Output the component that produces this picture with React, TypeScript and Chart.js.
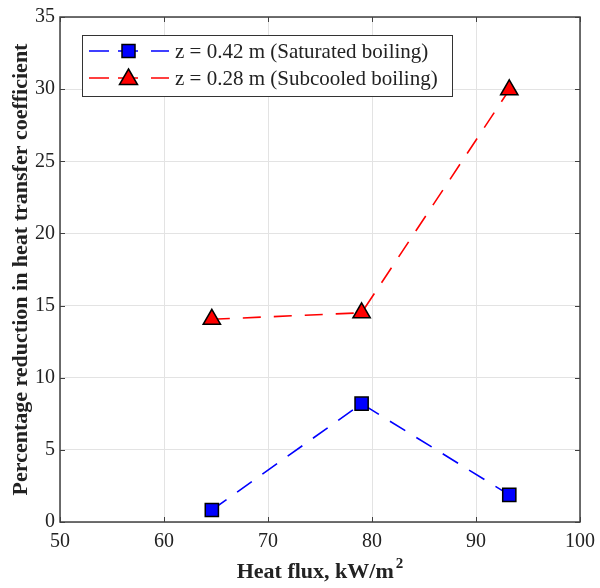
import React, { useEffect, useRef } from "react";
import { Chart, registerables } from "chart.js";

Chart.register(...registerables);

const heatFlux = [64.6, 79.0, 93.2];
const saturated = [0.83, 8.2, 1.88];
const subcooled = [14.05, 14.5, 29.95];
const seriesLabels = ["z = 0.42 m (Saturated boiling)", "z = 0.28 m (Subcooled boiling)"];
const xTitleMain = "Heat flux, kW/m";
const xTitleSup = "2";
const yTitle = "Percentage reduction in heat transfer coefficient";

const FONT = "'Liberation Serif', 'DejaVu Serif', serif";
const DASH = [18, 13];

const framePlugin = {
  id: "frame",
  afterDraw(chart: any) {
    const { ctx, chartArea: a, scales } = chart;
    ctx.save();
    ctx.strokeStyle = "#404040";
    ctx.lineWidth = 1.5;
    ctx.strokeRect(a.left, a.top, a.right - a.left, a.bottom - a.top);
    ctx.lineWidth = 1;
    const tl = 5;
    scales.x.ticks.forEach((t: any) => {
      const px = Math.round(scales.x.getPixelForValue(t.value)) + 0.5;
      ctx.beginPath();
      ctx.moveTo(px, a.bottom);
      ctx.lineTo(px, a.bottom - tl);
      ctx.moveTo(px, a.top);
      ctx.lineTo(px, a.top + tl);
      ctx.stroke();
    });
    scales.y.ticks.forEach((t: any) => {
      const py = Math.round(scales.y.getPixelForValue(t.value)) + 0.5;
      ctx.beginPath();
      ctx.moveTo(a.left, py);
      ctx.lineTo(a.left + tl, py);
      ctx.moveTo(a.right, py);
      ctx.lineTo(a.right - tl, py);
      ctx.stroke();
    });

    // x-axis title with superscript
    ctx.fillStyle = "#222";
    ctx.textBaseline = "alphabetic";
    ctx.textAlign = "left";
    ctx.font = `bold 22px ${FONT}`;
    const mainW = ctx.measureText(xTitleMain).width;
    ctx.font = `bold 15px ${FONT}`;
    const supW = ctx.measureText(xTitleSup).width;
    const cx = (a.left + a.right) / 2;
    const startX = cx - (mainW + supW + 2) / 2;
    ctx.font = `bold 22px ${FONT}`;
    ctx.fillText(xTitleMain, startX, 578);
    ctx.font = `bold 15px ${FONT}`;
    ctx.fillText(xTitleSup, startX + mainW + 2, 568);

    // legend
    const bx = 82, by = 35, bw = 370, bh = 61;
    ctx.fillStyle = "#ffffff";
    ctx.fillRect(bx, by, bw, bh);
    ctx.strokeStyle = "#333333";
    ctx.lineWidth = 1;
    ctx.strokeRect(bx + 0.5, by + 0.5, bw, bh);
    const rows = [
      { y: 51, color: "#0000ff", style: "rect", label: seriesLabels[0] },
      { y: 78, color: "#ff0000", style: "triangle", label: seriesLabels[1] },
    ];
    rows.forEach((r) => {
      ctx.strokeStyle = r.color;
      ctx.lineWidth = 1.5;
      ctx.beginPath();
      ctx.moveTo(89, r.y);
      ctx.lineTo(109, r.y);
      ctx.moveTo(118, r.y);
      ctx.lineTo(138, r.y);
      ctx.moveTo(151, r.y);
      ctx.lineTo(169, r.y);
      ctx.stroke();
      ctx.fillStyle = r.color;
      ctx.strokeStyle = "#000";
      ctx.lineWidth = 1.5;
      if (r.style === "rect") {
        ctx.fillRect(122, r.y - 6.5, 13, 13);
        ctx.strokeRect(122, r.y - 6.5, 13, 13);
      } else {
        ctx.beginPath();
        ctx.moveTo(128.5, r.y - 9);
        ctx.lineTo(137.5, r.y + 6.5);
        ctx.lineTo(119.5, r.y + 6.5);
        ctx.closePath();
        ctx.fill();
        ctx.stroke();
      }
      ctx.fillStyle = "#222";
      ctx.font = `21px ${FONT}`;
      ctx.textBaseline = "middle";
      ctx.textAlign = "left";
      ctx.fillText(r.label, 175, r.y + 1);
    });
    ctx.restore();
  },
};

export default function App() {
  const ref = useRef<HTMLCanvasElement>(null);
  useEffect(() => {
    document.body.style.margin = "0";
    const chart = new Chart(ref.current!, {
      type: "line",
      data: {
        datasets: [
          {
            label: seriesLabels[0],
            data: heatFlux.map((x, i) => ({ x, y: saturated[i] })),
            borderColor: "#0000ff",
            backgroundColor: "#0000ff",
            borderWidth: 1.6,
            borderDash: DASH,
            pointStyle: "rect",
            pointRadius: 9.3,
            pointBorderColor: "#000",
            pointBorderWidth: 1.5,
            pointBackgroundColor: "#0000ff",
          },
          {
            label: seriesLabels[1],
            data: heatFlux.map((x, i) => ({ x, y: subcooled[i] })),
            borderColor: "#ff0000",
            backgroundColor: "#ff0000",
            borderWidth: 1.6,
            borderDash: DASH,
            pointStyle: "triangle",
            pointRadius: 10,
            pointBorderColor: "#000",
            pointBorderWidth: 1.5,
            pointBackgroundColor: "#ff0000",
          },
        ],
      },
      options: {
        animation: false,
        responsive: false,
        layout: { padding: { top: 15, right: 20, left: 0, bottom: 0 } },
        plugins: { legend: { display: false }, tooltip: { enabled: false } },
        scales: {
          x: {
            type: "linear",
            min: 50,
            max: 100,
            ticks: { stepSize: 10, color: "#222", font: { family: FONT, size: 20 }, padding: 8 },
            grid: { color: "#e3e3e3", lineWidth: 1, drawTicks: false },
            border: { display: false },
            title: { display: false },
            afterFit: (s: any) => {
              s.height = 66;
              s.paddingLeft = 0;
              s.paddingRight = 0;
            },
          },
          y: {
            type: "linear",
            min: 0,
            max: 35,
            ticks: { stepSize: 5, color: "#222", font: { family: FONT, size: 20 }, padding: 5 },
            grid: { color: "#e3e3e3", lineWidth: 1, drawTicks: false },
            border: { display: false },
            title: {
              display: true,
              text: yTitle,
              color: "#222",
              font: { family: FONT, size: 22, weight: "bold" },
              padding: { top: 8, bottom: 0 },
            },
            afterFit: (s: any) => {
              s.width = 60;
            },
          },
        },
      },
      plugins: [framePlugin],
    } as any);
    return () => chart.destroy();
  }, []);
  return (
    <div style={{ width: 600, height: 588 }}>
      <canvas ref={ref} width={600} height={588} />
    </div>
  );
}
